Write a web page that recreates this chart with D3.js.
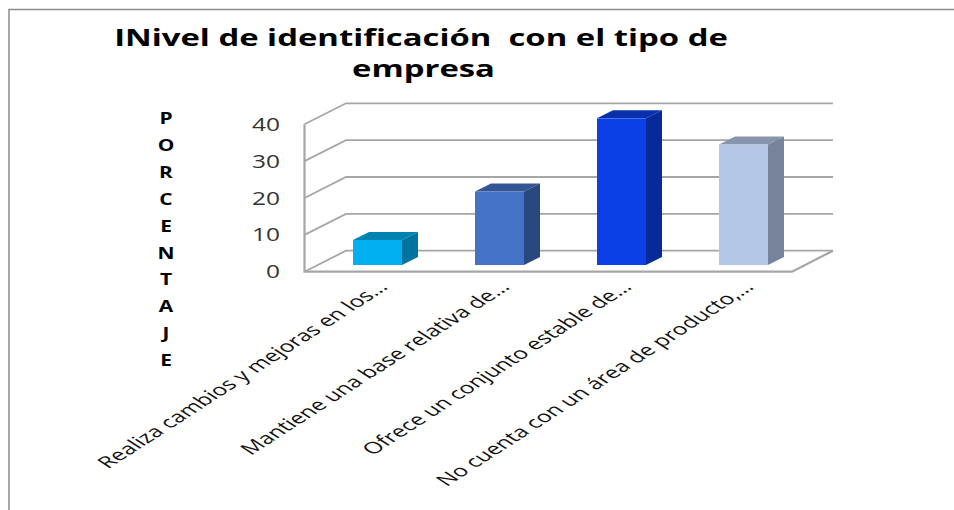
<!DOCTYPE html>
<html><head><meta charset="utf-8">
<script src="https://cdn.jsdelivr.net/npm/d3@7"></script>
<style>html,body{margin:0;padding:0;background:#fff}svg{display:block}text{fill:#000}</style>
</head><body><svg id="c" width="954" height="510"></svg>
<script>
const categories=["Realiza cambios y mejoras en los…","Mantiene una base relativa de…","Ofrece un conjunto estable de…","No cuenta con un área de producto,…"];
const values=[6.8,20,39.9,32.8];
const ticks=[0,10,20,30,40];
const faces=["#00B0F0","#4472C4","#0B40E6","#B4C7E7"];
const tops=["#0083B3","#335593","#0830AD","#8796AD"];
const sides=["#00749F","#2A4880","#062A98","#76839A"];
const titleLines=["INivel de identificación  con el tipo de","empresa"];
const axisTitle="PORCENTAJE".split("");

const svg=d3.select("#c");
const font="'Open Sans',sans-serif";
svg.append("path").attr("d","M9,510V9.5H954").attr("fill","none").attr("stroke","#8c8c8c").attr("stroke-width",1.5);
const yFront=d3.scaleLinear().domain([0,40]).range([271.7,124.3]);
const dx=41.5,dy=-21;
const x0=304.5,xEnd=792;
const band=d3.scaleBand().domain(categories).range([x0+28,x0+28+488]).padding(0);
const barW=49;
const yBar=d3.scaleLinear().domain([0,40]).range([265,118]);
const grid="#a6a6a6";
const g=svg.append("g").attr("fill","none").attr("stroke",grid).attr("stroke-width",1.8);
ticks.forEach(t=>{
  const y=yFront(t);
  g.append("path").attr("d",`M${x0},${y}L${x0+dx},${y+dy}H${xEnd+dx-0.5}`);
});
g.append("path").attr("d",`M${x0},${yFront(40)}V${yFront(0)}H${xEnd}L${xEnd+dx-0.5},${yFront(0)+dy}`).attr("stroke-width",2.2);
const ddx=16,ddy=-8;
categories.forEach((c,i)=>{
  const l=band(c)+(band.bandwidth()-barW)/2-16, r=l+barW, t=yBar(values[i]), b=yBar(0);
  const bg=svg.append("g");
  bg.append("path").attr("d",`M${l},${t}L${l+ddx},${t+ddy}H${r+ddx}L${r},${t}Z`).attr("fill",tops[i]);
  bg.append("path").attr("d",`M${r},${t}L${r+ddx},${t+ddy}V${b+ddy}L${r},${b}Z`).attr("fill",sides[i]);
  bg.append("rect").attr("x",l).attr("y",t).attr("width",barW).attr("height",b-t).attr("fill",faces[i]);
  svg.append("text").attr("transform",`translate(${r-13},${288}) scale(1.55,1) rotate(-45)`).attr("text-anchor","end")
    .attr("font-family",font).attr("font-size",16).style("fill","#111").text(c);
});
ticks.forEach(t=>{
  svg.append("text").attr("transform",`translate(280,${yFront(t)+6.5}) scale(1.4,1)`).attr("text-anchor","end")
   .attr("font-family",font).attr("font-size",17.5).style("fill","#333").text(t);
});
axisTitle.forEach((ch,i)=>{
  svg.append("text").attr("transform",`translate(166,${124+i*26.9}) scale(1.35,1)`).attr("text-anchor","middle")
   .attr("font-family",font).attr("font-weight",700).attr("font-size",15.5).text(ch);
});
titleLines.forEach((s,i)=>{
  svg.append("text").attr("transform",`translate(${i?423.5:421},${46+i*31}) scale(1.46,1)`).attr("text-anchor","middle")
   .attr("font-family",font).attr("font-weight",700).attr("font-size",22.5).style("white-space","pre").text(s);
});
</script></body></html>
